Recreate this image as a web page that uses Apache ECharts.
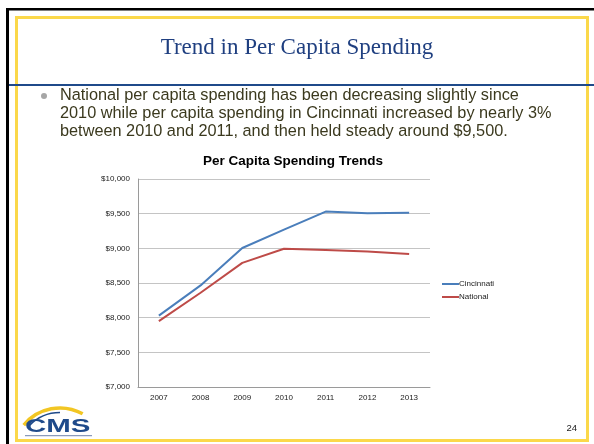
<!DOCTYPE html>
<html>
<head>
<meta charset="utf-8">
<script src="https://cdn.jsdelivr.net/npm/echarts@6/dist/echarts.min.js"></script>
<style>
html,body{margin:0;padding:0;background:#fff;}
#c{width:594px;height:444px;}
</style>
</head>
<body>
<div id="c"></div>
<script>
var years = ['2007','2008','2009','2010','2011','2012','2013'];
var cincinnati = [8030, 8465, 9005, 9270, 9530, 9505, 9515];
var national = [7950, 8360, 8790, 8995, 8975, 8955, 8920];
var seriesNames = ['Cincinnati', 'National'];
var slideTitle = 'Trend in Per Capita Spending';
var bulletText = 'National per capita spending has been decreasing slightly since\n2010 while per capita spending in Cincinnati increased by nearly 3%\nbetween 2010 and 2011, and then held steady around $9,500.';
var chartTitle = 'Per Capita Spending Trends';
var pageNumber = '24';

var chart = echarts.init(document.getElementById('c'), null, {renderer:'canvas'});
function fmt(v){ return '$' + String(v).replace(/\B(?=(\d{3})+(?!\d))/g, ','); }

chart.setOption({
  animation:false,
  backgroundColor:'#fff',
  title:{
    text: chartTitle, left: 293, top: 154, textAlign:'center', padding:0,
    textStyle:{fontFamily:'Liberation Sans, Arial', fontSize:13.5, fontWeight:'bold', color:'#000'}
  },
  legend:{
    orient:'vertical', left: 442, top: 280, padding:0,
    itemWidth:17, itemHeight:2, itemGap:5, icon:'rect',
    data: seriesNames,
    textStyle:{fontFamily:'Liberation Sans, Arial', fontSize:8, color:'#222', padding:[0,0,0,-5]}
  },
  grid:{left:138, right:164, top:179, bottom:57, containLabel:false},
  xAxis:{
    type:'category', data: years, boundaryGap:true,
    axisLine:{lineStyle:{color:'#9a9a9a'}},
    axisTick:{show:false},
    axisLabel:{fontFamily:'Liberation Sans, Arial', fontSize:8, color:'#222', margin:7}
  },
  yAxis:{
    type:'value', min:7000, max:10000, interval:500,
    axisLine:{show:true, lineStyle:{color:'#9a9a9a'}},
    axisTick:{show:false},
    splitLine:{lineStyle:{color:'#c4c4c4'}},
    axisLabel:{fontFamily:'Liberation Sans, Arial', fontSize:8, color:'#222', margin:8, formatter: fmt}
  },
  series:[
    {name:seriesNames[0], type:'line', data:cincinnati, symbol:'none', lineStyle:{width:2, color:'#4a7ebb'}, itemStyle:{color:'#4a7ebb'}},
    {name:seriesNames[1], type:'line', data:national, symbol:'none', lineStyle:{width:2, color:'#be4b48'}, itemStyle:{color:'#be4b48'}}
  ],
  graphic:[
    {type:'rect', shape:{x:6, y:8, width:3, height:436}, style:{fill:'#000'}, z:100},
    {type:'rect', shape:{x:6, y:8, width:588, height:2.5}, style:{fill:'#000'}, z:100},
    {type:'rect', shape:{x:16.5, y:17.5, width:571, height:423}, style:{fill:'none', stroke:'#fbd84a', lineWidth:3}, z:100},
    {type:'rect', shape:{x:9, y:84, width:585, height:2}, style:{fill:'#1f4a8a'}, z:101},
    {type:'text', x:297, y:48, style:{text:slideTitle, fill:'#1f3f80', font:'23px "Liberation Serif", "Times New Roman", serif', textAlign:'center', textVerticalAlign:'middle'}, z:101},
    {type:'circle', shape:{cx:44, cy:96, r:3}, style:{fill:'#a6a6a6'}, z:101},
    {type:'text', x:60, y:87, style:{text:bulletText, fill:'#3b391e', font:'16.3px "Liberation Sans", Arial, sans-serif', lineHeight:18}, z:101},
    {type:'text', x:577, y:428, style:{text:pageNumber, fill:'#222', font:'9.5px "Liberation Sans", Arial, sans-serif', textAlign:'right', textVerticalAlign:'middle'}, z:101},
    {type:'arc', shape:{cx:60, cy:455, r:47, startAngle:Math.PI*1.22, endAngle:Math.PI*1.66}, style:{stroke:'#f2c623', lineWidth:3.5, fill:'none'}, z:101},
    {type:'arc', shape:{cx:60, cy:455, r:42.5, startAngle:Math.PI*1.24, endAngle:Math.PI*1.5}, style:{stroke:'#1f4a8a', lineWidth:1.5, fill:'none'}, z:101},
    {type:'text', x:25, y:427, scaleX:1.55, originX:0, originY:0, style:{text:'CMS', fill:'#1f4a8a', font:'bold 19px "Liberation Sans", Arial, sans-serif', textVerticalAlign:'middle'}, z:101},
    {type:'rect', shape:{x:25, y:435, width:67, height:1.2}, style:{fill:'#8a9abb'}, z:101}
  ]
});
</script>
</body>
</html>
